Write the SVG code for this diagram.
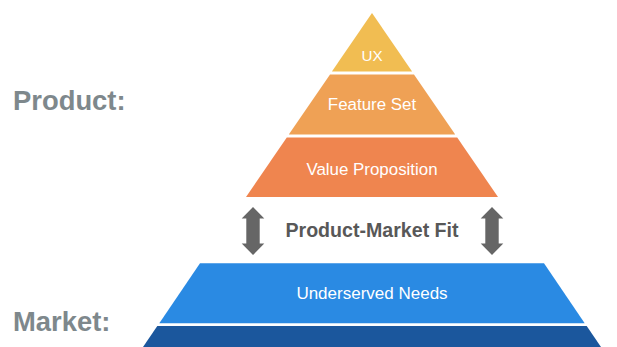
<svg xmlns="http://www.w3.org/2000/svg" width="617" height="347" viewBox="0 0 617 347">
  <style>
    .tier-label { font-family: "Liberation Sans", Arial, sans-serif; fill: #ffffff; text-anchor: middle; }
    .side-label { font-family: "Liberation Sans", Arial, sans-serif; font-weight: bold; font-size: 27.4px; fill: #7e888c; }
    .fit-label { font-family: "Liberation Sans", Arial, sans-serif; font-weight: bold; font-size: 19.6px; fill: #585858; text-anchor: middle; }
    .fit-arrow { fill: #666666; }
  </style>
  <defs>
    <!-- double-headed vertical arrow, centred on x=0 -->
    <path id="dbl-arrow" d="M0,207 L11.3,218.5 L6.7,218.5 L6.7,243.5 L11.3,243.5 L0,255 L-11.3,243.5 L-6.7,243.5 L-6.7,218.5 L-11.3,218.5 Z"/>
  </defs>

  <rect width="617" height="347" fill="#ffffff"/>

  <!-- side labels -->
  <text class="side-label" x="13" y="109.5">Product:</text>
  <text class="side-label" x="13" y="331">Market:</text>

  <!-- product pyramid -->
  <g id="ux">
    <polygon points="372,13 412.1,71.5 331.9,71.5" fill="#f1bd52"/>
    <text class="tier-label" x="372" y="61" font-size="15.2">UX</text>
  </g>
  <g id="feature-set">
    <polygon points="330,74.5 414,74.5 455.2,134.5 288.8,134.5" fill="#efa155"/>
    <text class="tier-label" x="372" y="110" font-size="16.9">Feature Set</text>
  </g>
  <g id="value-proposition">
    <polygon points="286.8,137.5 457.2,137.5 498,197 246,197" fill="#ef854f"/>
    <text class="tier-label" x="372" y="175" font-size="16.9">Value Proposition</text>
  </g>

  <!-- fit connectors -->
  <g id="connectors">
    <use href="#dbl-arrow" class="fit-arrow" x="253"/>
    <use href="#dbl-arrow" class="fit-arrow" x="492"/>
  </g>
  <g id="product-market-fit">
    <text class="fit-label" x="372" y="236.5">Product-Market Fit</text>
  </g>

  <!-- market pyramid -->
  <g id="underserved-needs">
    <polygon points="200,263.3 544,263.3 584.7,323.3 159.3,323.3" fill="#2a8ae3"/>
    <text class="tier-label" x="372" y="298.5" font-size="17">Underserved Needs</text>
  </g>
  <g id="market-base">
    <polygon points="157.3,326 586.7,326 601,347 143,347" fill="#1b579d"/>
  </g>
</svg>
